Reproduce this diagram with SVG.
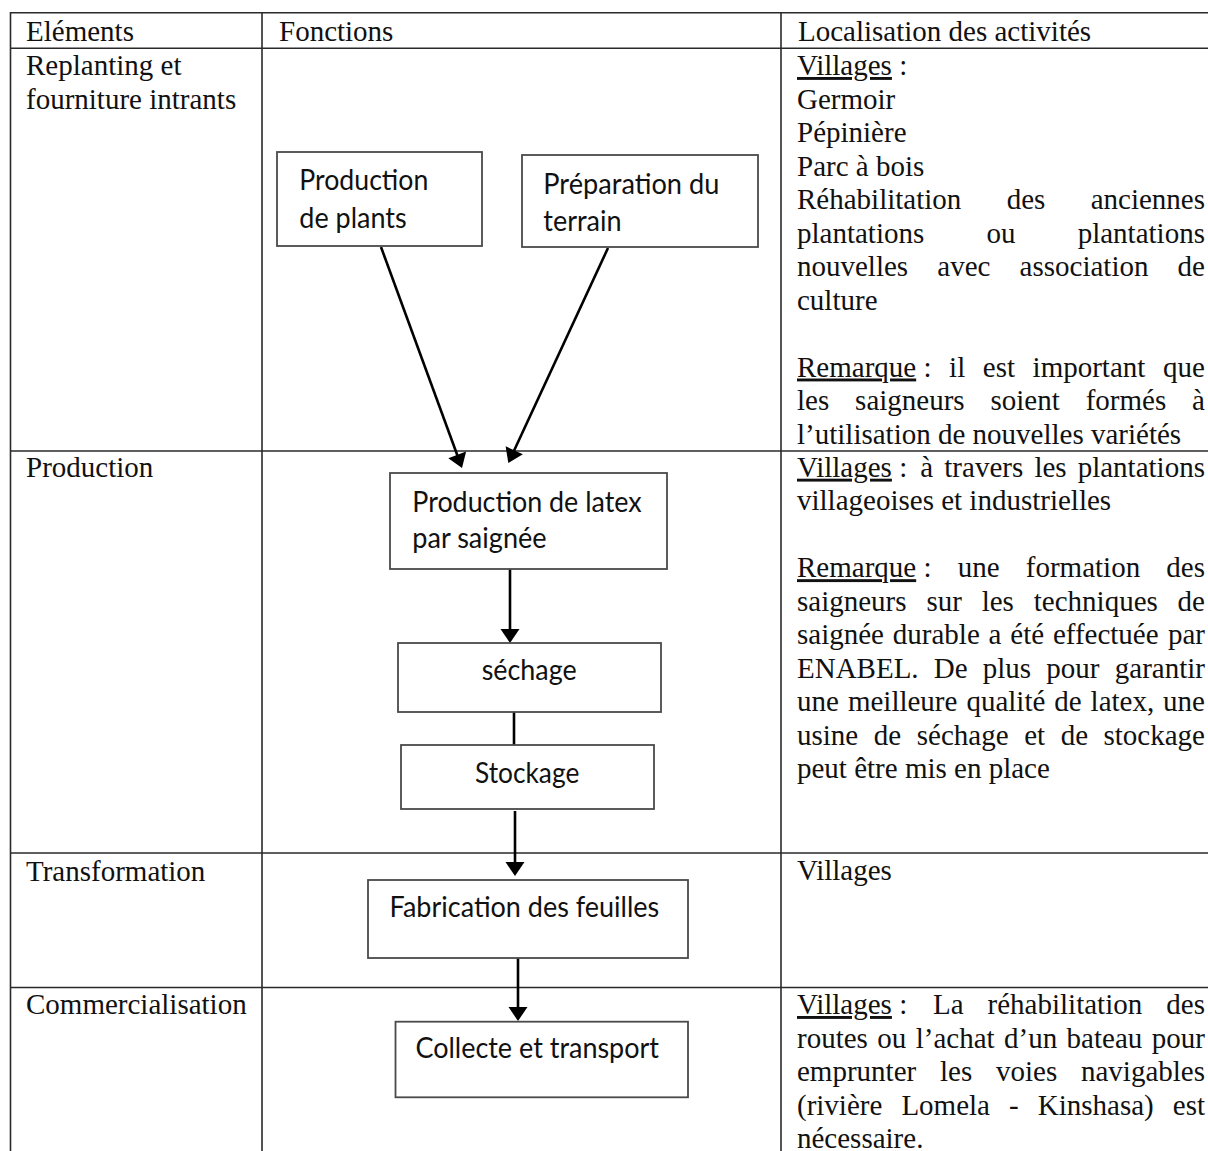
<svg xmlns="http://www.w3.org/2000/svg" width="1208" height="1151" viewBox="0 0 1208 1151">
<style>
.grid{stroke:#2a2a2a;stroke-width:1.6;fill:none}
.t{font-family:"Liberation Serif","Times New Roman",serif;font-size:29px;fill:#111}
.u{text-decoration:underline}
.box{fill:#fff;stroke:#4a4a4a;stroke-width:1.8}
.bt{font-family:Lato,"Liberation Sans",sans-serif;font-size:28px;fill:#111}
.con{stroke:#000;stroke-width:2.6;fill:none}
</style>
<defs>
<marker id="ah" markerUnits="userSpaceOnUse" markerWidth="20" markerHeight="22" viewBox="-1 -11 16 22" refX="11" refY="0" orient="auto">
<path d="M0,-9.5 L14,0 L0,9.5 z" fill="#000"/>
</marker>
</defs>
<rect width="1208" height="1151" fill="#fff"/>
<g id="table">
<line class="grid" x1="10.5" y1="12.7" x2="1208" y2="12.7"/>
<line class="grid" x1="10.5" y1="48.3" x2="1208" y2="48.3"/>
<line class="grid" x1="10.5" y1="451" x2="1208" y2="451"/>
<line class="grid" x1="10.5" y1="853" x2="1208" y2="853"/>
<line class="grid" x1="10.5" y1="987.5" x2="1208" y2="987.5"/>
<line class="grid" x1="10.5" y1="12" x2="10.5" y2="1151"/>
<line class="grid" x1="262" y1="12" x2="262" y2="1151"/>
<line class="grid" x1="781" y1="12" x2="781" y2="1151"/>
</g>
<g id="col-elements" class="t">
<text x="26" y="40.5">Eléments</text>
<text x="26" y="75">Replanting et</text>
<text x="26" y="108.5">fourniture intrants</text>
<text x="26" y="477">Production</text>
<text x="26" y="881">Transformation</text>
<text x="26" y="1014">Commercialisation</text>
</g>
<g id="col-fonctions" class="t">
<text x="279" y="40.5">Fonctions</text>
</g>
<g id="col-localisation" class="t">
<text x="798" y="40.5">Localisation des activités</text>
<text x="797" y="75"><tspan class="u">Villages</tspan> :</text>
<text x="797" y="108.5">Germoir</text>
<text x="797" y="142">Pépinière</text>
<text x="797" y="175.5">Parc à bois</text>
<text x="797" y="209">Réhabilitation<tspan x="1006.7">des</tspan><tspan x="1090.7">anciennes</tspan></text>
<text x="797" y="242.5">plantations<tspan x="986.5">ou</tspan><tspan x="1077.7">plantations</tspan></text>
<text x="797" y="276">nouvelles<tspan x="937.3">avec</tspan><tspan x="1019.6">association</tspan><tspan x="1177.6">de</tspan></text>
<text x="797" y="309.5">culture</text>
<text x="797" y="376.5"><tspan class="u">Remarque</tspan> :<tspan x="949.1">il</tspan><tspan x="982.8">est</tspan><tspan x="1032.6">important</tspan><tspan x="1163.1">que</tspan></text>
<text x="797" y="410">les<tspan x="855.1">saigneurs</tspan><tspan x="990.5">soient</tspan><tspan x="1085.7">formés</tspan><tspan x="1192.1">à</tspan></text>
<text x="797" y="443.5">l’utilisation de nouvelles variétés</text>

<text x="797" y="476.7"><tspan class="u">Villages</tspan> :<tspan x="920.2">à</tspan><tspan x="944.3">travers</tspan><tspan x="1034.4">les</tspan><tspan x="1077.7">plantations</tspan></text>
<text x="797" y="510.2">villageoises et industrielles</text>
<text x="797" y="577.2"><tspan class="u">Remarque</tspan> :<tspan x="957.7">une</tspan><tspan x="1025.8">formation</tspan><tspan x="1166.3">des</tspan></text>
<text x="797" y="610.7">saigneurs<tspan x="926.4">sur</tspan><tspan x="981.7">les</tspan><tspan x="1033.8">techniques</tspan><tspan x="1177.6">de</tspan></text>
<text x="797" y="644.2">saignée<tspan x="892.8">durable</tspan><tspan x="988.6">a</tspan><tspan x="1010.3">été</tspan><tspan x="1052.9">effectuée</tspan><tspan x="1168">par</tspan></text>
<text x="797" y="677.7">ENABEL.<tspan x="933.8">De</tspan><tspan x="982.8">plus</tspan><tspan x="1046.3">pour</tspan><tspan x="1114.8">garantir</tspan></text>
<text x="797" y="711.2">une<tspan x="847.9">meilleure</tspan><tspan x="966.4">qualité</tspan><tspan x="1054.2">de</tspan><tspan x="1090.6">latex,</tspan><tspan x="1163.1">une</tspan></text>
<text x="797" y="744.7">usine<tspan x="873.8">de</tspan><tspan x="916.8">séchage</tspan><tspan x="1024.2">et</tspan><tspan x="1060.7">de</tspan><tspan x="1103.5">stockage</tspan></text>
<text x="797" y="778.2">peut être mis en place</text>

<text x="797" y="880">Villages</text>

<text x="797" y="1014"><tspan class="u">Villages</tspan> :<tspan x="933">La</tspan><tspan x="987.6">réhabilitation</tspan><tspan x="1166.3">des</tspan></text>
<text x="797" y="1047.5">routes<tspan x="877.3">ou</tspan><tspan x="915.7">l’achat</tspan><tspan x="1004">d’un</tspan><tspan x="1066.6">bateau</tspan><tspan x="1151.8">pour</tspan></text>
<text x="797" y="1081">emprunter<tspan x="940">les</tspan><tspan x="996">voies</tspan><tspan x="1081">navigables</tspan></text>
<text x="797" y="1114.5">(rivière<tspan x="901.4">Lomela</tspan><tspan x="1009.1">-</tspan><tspan x="1037.8">Kinshasa)</tspan><tspan x="1172.8">est</tspan></text>
<text x="797" y="1148">nécessaire.</text>
</g>

<g id="connectors">
<line class="con" x1="381" y1="247" x2="461" y2="465.2" marker-end="url(#ah)"/>
<line class="con" x1="608" y1="248" x2="509.6" y2="460.3" marker-end="url(#ah)"/>
<line class="con" x1="510" y1="569" x2="510" y2="640" marker-end="url(#ah)"/>
<line class="con" x1="514" y1="712" x2="514" y2="745"/>
<line class="con" x1="515" y1="811" x2="515" y2="873" marker-end="url(#ah)"/>
<line class="con" x1="518" y1="956" x2="518" y2="1018" marker-end="url(#ah)"/>
</g>

<g id="node-production-plants">
<rect class="box" x="277" y="152" width="205" height="94"/>
<text class="bt" x="299.3" y="190" textLength="129" lengthAdjust="spacingAndGlyphs">Production</text>
<text class="bt" x="299.3" y="228" textLength="107.3" lengthAdjust="spacingAndGlyphs">de plants</text>
</g>
<g id="node-preparation-terrain">
<rect class="box" x="522" y="155" width="236" height="92"/>
<text class="bt" x="543.3" y="194" textLength="176" lengthAdjust="spacingAndGlyphs">Préparation du</text>
<text class="bt" x="543.3" y="231" textLength="78.3" lengthAdjust="spacingAndGlyphs">terrain</text>
</g>
<g id="node-production-latex">
<rect class="box" x="390" y="473" width="277" height="96"/>
<text class="bt" x="412.3" y="511.7" textLength="229.3" lengthAdjust="spacingAndGlyphs">Production de latex</text>
<text class="bt" x="412.3" y="548.3" textLength="134.3" lengthAdjust="spacingAndGlyphs">par saignée</text>
</g>
<g id="node-sechage">
<rect class="box" x="398" y="643" width="263" height="69"/>
<text class="bt" x="481.7" y="680" textLength="95" lengthAdjust="spacingAndGlyphs">séchage</text>
</g>
<g id="node-stockage">
<rect class="box" x="401" y="745" width="253" height="64"/>
<text class="bt" x="475" y="782.7" textLength="104.3" lengthAdjust="spacingAndGlyphs">Stockage</text>
</g>
<g id="node-fabrication">
<rect class="box" x="368" y="880" width="320" height="78"/>
<text class="bt" x="389.6" y="917.3" textLength="269.6" lengthAdjust="spacingAndGlyphs">Fabrication des feuilles</text>
</g>
<g id="node-collecte">
<rect class="box" x="395.5" y="1021.7" width="292.5" height="75.6"/>
<text class="bt" x="415.4" y="1058.3" textLength="243.6" lengthAdjust="spacingAndGlyphs">Collecte et transport</text>
</g>
</svg>
